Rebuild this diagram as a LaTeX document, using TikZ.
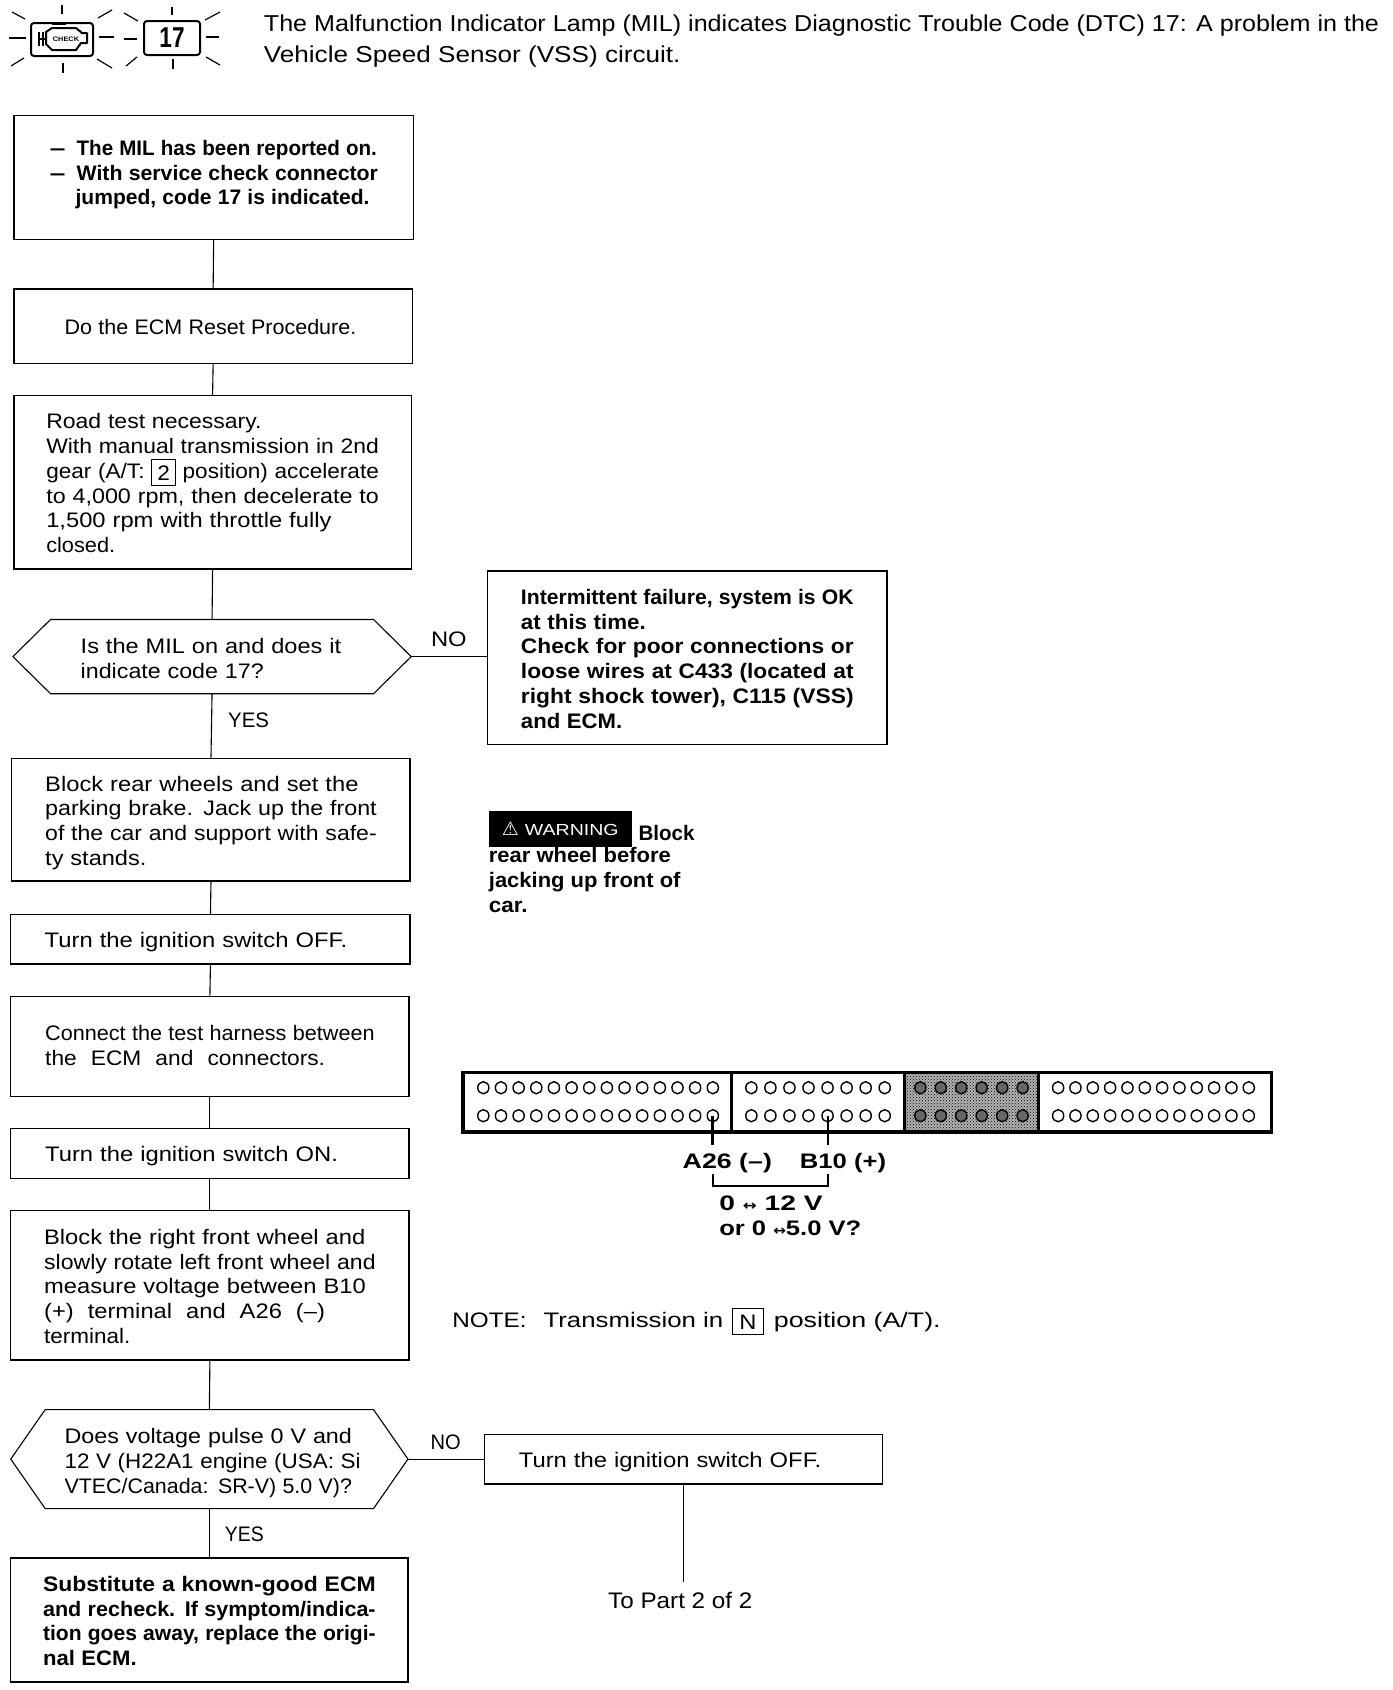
\documentclass[tikz,border=0pt]{standalone}
\usepackage{graphicx}
\usepackage{fontspec}
\setmainfont[FakeStretch=1.13]{Liberation Sans}
\newfontfamily\plainfam{Liberation Sans}
\newfontfamily\dejavu{DejaVu Sans}
\usetikzlibrary{calc,patterns}
\newlength{\jw}
\newlength{\bxtw}
\newsavebox{\jbox}
\newcommand{\J}[1]{\sbox{\jbox}{#1}\ifdim\wd\jbox>\jw\resizebox{\jw}{\height}{#1}\else\makebox[\jw][s]{#1}\fi}
\newcommand{\Sw}[2]{\resizebox{\dimexpr1.0764pt*#1\relax}{\height}{#2}}
\newcommand{\kb}[2][26pt]{\raisebox{-.12em}{\setlength\fboxsep{0pt}\setlength\fboxrule{1pt}\framebox[#1][c]{\rule[-.2em]{0pt}{1.2em}#2}}}
\newcommand{\arr}{{\dejavu\fontsize{14pt}{14pt}\selectfont\symbol{"2194}}}
\tikzset{
 x=1.0764pt,y=-1.0764pt,
 base/.style={font=\fontsize{21pt}{24.76pt}\selectfont,align=left,inner sep=0pt,
   execute at begin node={\rule{0pt}{22pt}},execute at end node={\rule[-5pt]{0pt}{0pt}}},
 txt/.style={base,/utils/exec={\pgfmathsetlength\bxtw{#1*1.0764pt}\setlength\jw{\bxtw}},text width=\bxtw},
 bx/.style n args={3}{txt=#3,draw,line width=1.3pt,minimum height={#2*1.0764pt},inner xsep={(#1-#3)/2*1.0764pt}},
 hex/.style={line width=1.1pt},
 lbl/.style={base},
 link/.style={line width=1.1pt},
 pin/.style={line width=1.4pt},
 rayA/.style={line width=1.2pt},
}
\begin{document}
\begin{tikzpicture}
\useasboundingbox (0,0) rectangle (1293.2,1570);
\fill[white] (0,0) rectangle (1293.2,1570);
\lineskiplimit=-30pt
% header icons (real pixel coordinates)
\begin{scope}[x=1pt,y=-1pt]
 \foreach \a/\b/\c/\d in {62/5/62/14, 12/12/25/19, 98/18/112/10, 9/38/26/38, 99/37/114/37, 11/66/24/58, 63/63/63/73, 97/59/112/68,
   172/7/172/15, 124/13/138/21, 205/20/220/12, 124/39/137/39, 206/37/219/37, 126/66/137/57, 173/59/173/69, 206/57/220/65}
   {\draw[rayA] (\a,\b) -- (\c,\d);}
 \draw[line width=2pt,rounded corners=3pt] (31,23) rectangle (93,56);
 \draw[line width=2pt,rounded corners=3pt] (144,21) rectangle (200,55);
 \node[font=\fontsize{25pt}{25pt}\selectfont\bfseries,inner sep=0pt] (seventeen) at (172,38) {\scalebox{.8}[1.15]{17}};
 \draw[line width=2pt,line join=round] (46,32) -- (52,28) -- (76,28) -- (82,33) -- (87,33) -- (87,43) -- (81,43) -- (76,50) -- (52,50) -- (46,44) -- cycle;
 \draw[line width=2pt] (52,24) -- (66,24);
 \draw[line width=1.6pt] (39,32) -- (39,46) (43,32) -- (43,46) (39,39) -- (46,39);
 \node[font=\fontsize{6.5pt}{6.5pt}\selectfont\bfseries,inner sep=0pt] (chk) at (66,39) {CHECK};
\end{scope}
\begin{scope}[yshift=-1.6pt]
\node[base,anchor=west,font=\fontsize{23pt}{31.2pt}\selectfont] (head) at (245,36.5) {\Sw{1036}{The Malfunction Indicator Lamp (MIL) indicates Diagnostic Trouble Code (DTC) 17: A problem in the}\\\Sw{387}{Vehicle Speed Sensor (VSS) circuit.}};
% left column
\node[bx={371}{115}{303}] (b1) at (198.5,163.5) {\bfseries\makebox[26pt][l]{\Sw{13}{---}}\Sw{279}{The MIL has been reported on.}\\\makebox[26pt][l]{\Sw{13}{---}}\Sw{280}{With service check connector}\\\hspace*{25pt}\Sw{273}{jumped, code 17 is indicated.}\rule[-17pt]{0pt}{0pt}};
\node[bx={370}{69}{276}] (b2) at (198,301.5) {\Sw{271}{Do the ECM Reset Procedure.}};
\node[bx={369}{161}{309}] (b3) at (197.5,446.5) {\Sw{200}{Road test necessary.}\\\J{With manual transmission in 2nd}\\\J{gear (A/T: \kb{2} position) accelerate}\\\J{to 4,000 rpm, then decelerate to}\\\J{1,500 rpm with throttle fully}\\\Sw{64}{closed.}};
\coordinate (h1r) at (382,608.5);
\node[txt=242] (h1) at (196,609) {\J{Is the MIL on and does it}\\\Sw{170}{indicate code 17?}};
\coordinate (h1t) at (197,574); \coordinate (h1b) at (197,643);
\draw[hex] (12,608.5) -- (47,574) -- (347,574) -- (382,608.5) -- (347,643) -- (47,643) -- cycle;
\node[bx={370}{114}{308}] (b4) at (196,760) {\J{Block rear wheels and set the}\\\J{parking brake. Jack up the front}\\\J{of the car and support with safe-}\\\Sw{94}{ty stands.}};
\node[bx={371}{46}{308}] (b5) at (195.5,871) {\Sw{281}{Turn the ignition switch OFF.}};
\node[bx={370}{93}{306}] (b6) at (195,970.5) {\J{Connect the test harness between}\\\Sw{260}{the\hspace{.7em}ECM\hspace{.7em}and\hspace{.7em}connectors.}\rule[-9pt]{0pt}{0pt}};
\node[bx={370}{46}{306}] (b7) at (195,1070) {\Sw{272}{Turn the ignition switch ON.}};
\node[bx={370}{139}{308}] (b8) at (195,1192.5) {\J{Block the right front wheel and}\\\J{slowly rotate left front wheel and}\\\J{measure voltage between B10}\\\J{(+)\ \ terminal\ \ and\ \ A26\ \ (--)}\\\Sw{80}{terminal.}};
\node[txt=275] (h2) at (197.5,1355) {\Sw{267}{Does voltage pulse 0 V and}\\\Sw{275}{12 V (H22A1 engine (USA: Si}\\\Sw{267}{VTEC/Canada: SR-V) 5.0 V)?}};
\coordinate (h2t) at (194.5,1308); \coordinate (h2b) at (194.5,1400);
\coordinate (h2r) at (379,1354);
\draw[hex] (10,1354) -- (42,1308) -- (347,1308) -- (379,1354) -- (347,1400) -- (42,1400) -- cycle;
\node[bx={369}{115}{309}] (b9) at (194.5,1503.5) {\bfseries\J{Substitute a known-good ECM}\\\J{and recheck. If symptom/indica-}\\\J{tion goes away, replace the origi-}\\\Sw{87}{nal ECM.}};
% right column
\node[bx={371}{161}{309}] (r1) at (638.5,609.5) {\bfseries\J{Intermittent failure, system is OK}\\\Sw{116}{at this time.}\\\J{Check for poor connections or}\\\J{loose wires at C433 (located at}\\\J{right shock tower), C115 (VSS)}\\\Sw{94}{and ECM.}};
\node[bx={370}{46}{306}] (r2) at (635,1354) {\Sw{281}{Turn the ignition switch OFF.}};
\node[lbl,font=\fontsize{22.5pt}{24pt}\selectfont\plainfam] (topart) at (632,1485) {\Sw{134}{To Part 2 of 2}};
\coordinate (topartend) at (635,1468);
% labels
\node[lbl] (no1) at (417,591) {NO};
\node[lbl] (yes1) at (231,666) {\Sw{38}{YES}};
\node[lbl] (no2) at (414,1337) {\Sw{28}{NO}};
\node[lbl] (yes2) at (227,1423) {\Sw{36}{YES}};
% links
\draw[link] (b1.south) -- (b2.north);
\draw[link] (b2.south) -- (b3.north);
\draw[link] (b3.south) -- (h1t);
\draw[link] (h1b) -- (b4.north);
\draw[link] (h1r) -- (r1.west |- h1r);
\draw[link] (b4.south) -- (b5.north);
\draw[link] (b5.south) -- (b6.north);
\draw[link] (b6.south) -- (b7.north);
\draw[link] (b7.south) -- (b8.north);
\draw[link] (b8.south) -- (h2t);
\draw[link] (h2b) -- (b9.north);
\draw[link] (h2r) -- (r2.west);
\draw[link] (r2.south -| topartend) -- (topartend);
% warning
\node[fill=black,text=white,minimum width=133*1.0764pt,minimum height=33*1.0764pt,inner sep=0pt,font=\fontsize{16pt}{17pt}\selectfont] (warn) at (520.5,768.5) {{\dejavu\fontsize{19pt}{19pt}\selectfont\symbol{"26A0}}\hspace{6pt}\Sw{87}{WARNING}};
\node[base,anchor=west,font=\fontsize{21pt}{24.76pt}\selectfont\bfseries] (blk) at (593,771) {\Sw{52}{Block}};
\node[base,anchor=west,font=\fontsize{21pt}{24.76pt}\selectfont\bfseries] (wtxt) at (454,818) {\Sw{169}{rear wheel before}\\\Sw{178}{jacking up front of}\\\Sw{36}{car.}};
% connector
\fill[black!30] (840,995) rectangle (965,1050);
\fill[pattern=crosshatch dots,pattern color=black] (840,995) rectangle (965,1050);
\foreach \yy in {1009,1035}{
  \foreach \i in {0,...,13}{\draw[pin,fill=white] ({449+\i*16.4},\yy) ellipse [x radius=5.2,y radius=5.6];}
  \foreach \i in {0,...,7}{\draw[pin,fill=white] ({698+\i*17.7},\yy) ellipse [x radius=5.2,y radius=5.6];}
  \foreach \i in {0,...,5}{\draw[pin,fill=black!60] ({855+\i*19},\yy) ellipse [x radius=5.2,y radius=5.6];}
  \foreach \i in {0,...,11}{\draw[pin,fill=white] ({983+\i*16.1},\yy) ellipse [x radius=5.2,y radius=5.6];}
}
\draw[line width=3.4pt] (430,995) rectangle (1181,1050);
\draw[line width=3pt] (680,995) -- (680,1050) (840,995) -- (840,1050) (965,995) -- (965,1050);
\coordinate (pa) at (662,1035); \coordinate (pb) at (769,1035);
\coordinate (pae) at (662,1062); \coordinate (pbe) at (769,1062);
\draw[line width=2.4pt] (pa) -- (pae);
\draw[line width=2.4pt] (pb) -- (pbe);
\node[base,anchor=west,font=\fontsize{21pt}{24pt}\selectfont\bfseries] (a26) at (634,1076) {\Sw{83}{A26 (--)}};
\node[base,anchor=west,font=\fontsize{21pt}{24pt}\selectfont\bfseries] (b10) at (743,1076) {\Sw{80}{B10 (+)}};
\coordinate (ba) at (662,1089); \coordinate (bb) at (769,1089);
\draw[line width=2.2pt] (ba) -- (662,1100) -- (769,1100) -- (bb);
\node[base,anchor=west,font=\fontsize{21pt}{25.6pt}\selectfont\bfseries] (volts) at (668,1130) {\Sw{96}{0 \arr{} 12 V}\\\Sw{132}{or 0 \arr5.0 V?}};
\node[base,anchor=west] (note) at (420,1225) {\Sw{69}{NOTE:}\hspace{17pt}\Sw{167}{Transmission in}\hspace{8.5pt}\kb[32pt]{N}\hspace{10pt}\Sw{155}{position (A/T).}};
\end{scope}
\end{tikzpicture}
\end{document}
